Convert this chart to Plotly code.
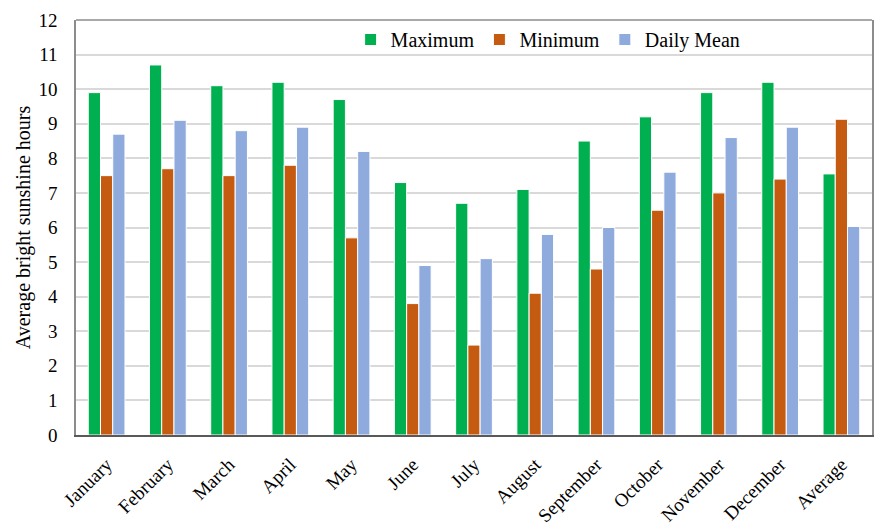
import plotly.graph_objects as go

months = ["January", "February", "March", "April", "May", "June", "July",
          "August", "September", "October", "November", "December", "Average"]
maximum = [9.9, 10.7, 10.1, 10.2, 9.7, 7.3, 6.7, 7.1, 8.5, 9.2, 9.9, 10.2, 7.55]
minimum = [7.5, 7.7, 7.5, 7.8, 5.7, 3.8, 2.6, 4.1, 4.8, 6.5, 7.0, 7.4, 9.13]
daily_mean = [8.7, 9.1, 8.8, 8.9, 8.2, 4.9, 5.1, 5.8, 6.0, 7.6, 8.6, 8.9, 6.03]

FONT = "Liberation Serif, Times New Roman, serif"

fig = go.Figure()
for name, vals, color in [("Maximum", maximum, "#00B050"),
                          ("Minimum", minimum, "#C55A11"),
                          ("Daily Mean", daily_mean, "#8FAADC")]:
    fig.add_trace(go.Bar(x=months, y=vals, name=name,
                         marker=dict(color=color, line=dict(color="white", width=1))))

fig.update_layout(
    width=875, height=527,
    margin=dict(l=76, r=1, t=20, b=91),
    paper_bgcolor="white", plot_bgcolor="white",
    bargap=0.4, bargroupgap=0.0,
    font=dict(family=FONT, size=19, color="#000000"),
    legend=dict(orientation="h", x=0.345, y=1.0, xanchor="left", yanchor="top",
                font=dict(family=FONT, size=20), bgcolor="rgba(0,0,0,0)",
                itemwidth=30, tracegroupgap=0),
    showlegend=True,
)
fig.update_xaxes(
    tickangle=-45, tickfont=dict(family=FONT, size=19),
    showline=True, linecolor="#595959", linewidth=2,
    showgrid=False, ticks="", ticklabelstandoff=9,
)
fig.update_yaxes(
    range=[0, 12], dtick=1, tickfont=dict(family=FONT, size=19),
    showgrid=True, gridcolor="#D9D9D9", gridwidth=1.5,
    showline=True, mirror=True, linecolor="#8C8C8C", linewidth=1.5,
    zeroline=False, ticks="", ticklabelstandoff=13,
    title=dict(text="Average bright sunshine hours", font=dict(family=FONT, size=20),
               standoff=2),
)
# top frame edge
fig.add_shape(type="line", xref="paper", yref="paper", x0=0, x1=1, y0=1, y1=1,
              line=dict(color="#8C8C8C", width=1.5))

fig.write_html("out.html")
